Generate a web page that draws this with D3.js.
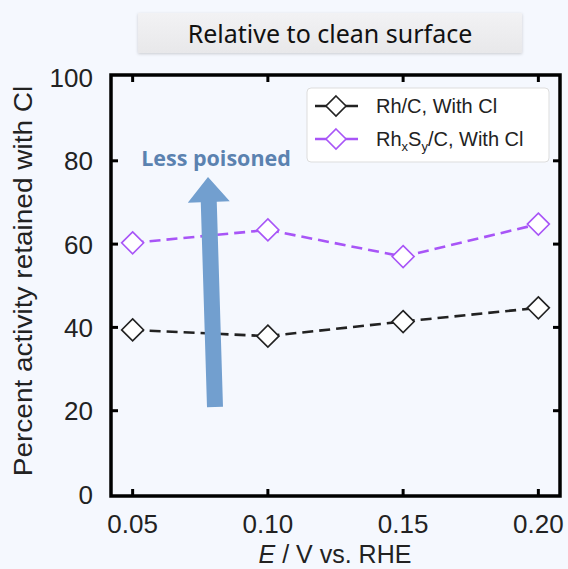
<!DOCTYPE html>
<html>
<head>
<meta charset="utf-8">
<script src="https://cdn.jsdelivr.net/npm/d3@7"></script>
<style>
  html, body { margin: 0; padding: 0; background: #f5f8fe; }
  svg { display: block; }
</style>
</head>
<body>
<svg id="chart"></svg>
<script>
const potentials = [0.05, 0.10, 0.15, 0.20];
const rhC = [39.4, 37.9, 41.4, 44.7];
const rhxSyC = [60.3, 63.4, 57.0, 64.8];
const xTicks = [0.05, 0.10, 0.15, 0.20];
const yTicks = [0, 20, 40, 60, 80, 100];

const width = 568;
const height = 569;

const svg = d3.select("#chart").attr("width", width).attr("height", height);

const defs = svg.append("defs");
const grad = defs.append("linearGradient").attr("id", "titleGrad")
  .attr("x1", 0).attr("y1", 0).attr("x2", 0).attr("y2", 1);
grad.append("stop").attr("offset", "0%").attr("stop-color", "#f2f2f4");
grad.append("stop").attr("offset", "100%").attr("stop-color", "#e8e8ea");
const shadow = defs.append("filter").attr("id", "shadow")
  .attr("x", "-10%").attr("y", "-30%").attr("width", "120%").attr("height", "160%");
shadow.append("feDropShadow").attr("dx", 0).attr("dy", 1).attr("stdDeviation", 1.5)
  .attr("flood-color", "#000").attr("flood-opacity", 0.18);

// title box
svg.append("rect")
  .attr("x", 138).attr("y", 13).attr("width", 384).attr("height", 40)
  .attr("fill", "url(#titleGrad)").attr("filter", "url(#shadow)");
svg.append("text")
  .attr("x", 330).attr("y", 43)
  .attr("text-anchor", "middle")
  .attr("font-family", "'Noto Sans', 'Open Sans', sans-serif")
  .attr("font-size", 25)
  .attr("fill", "#111")
  .text("Relative to clean surface");

const x = d3.scaleLinear().domain([0.042, 0.208]).range([111, 560]);
const y = d3.scaleLinear().domain([0, 100]).range([494, 77.5]);

const font = "'Liberation Sans', Arial, sans-serif";

// frame
const [x0, x1] = x.range();
const y0 = 496, y1 = 75;
svg.append("rect")
  .attr("x", x0).attr("y", y1).attr("width", x1 - x0).attr("height", y0 - y1)
  .attr("fill", "none").attr("stroke", "#000").attr("stroke-width", 3.5);

const tickLen = 7;
const ticks = svg.append("g").attr("stroke", "#000").attr("stroke-width", 3);
xTicks.forEach((t) => {
  ticks.append("line").attr("x1", x(t)).attr("x2", x(t)).attr("y1", y0).attr("y2", y0 - tickLen);
  ticks.append("line").attr("x1", x(t)).attr("x2", x(t)).attr("y1", y1).attr("y2", y1 + tickLen);
});
yTicks.slice(1, -1).forEach((t) => {
  ticks.append("line").attr("x1", x0).attr("x2", x0 + tickLen).attr("y1", y(t)).attr("y2", y(t));
  ticks.append("line").attr("x1", x1).attr("x2", x1 - tickLen).attr("y1", y(t)).attr("y2", y(t));
});

// tick labels
svg.append("g").selectAll("text").data(xTicks).enter().append("text")
  .attr("x", (d) => x(d)).attr("y", 533)
  .attr("text-anchor", "middle")
  .attr("font-family", font).attr("font-size", 26).attr("fill", "#222")
  .text((d) => d3.format(".2f")(d));
svg.append("g").selectAll("text").data(yTicks).enter().append("text")
  .attr("x", 93).attr("y", (d) => y(d) + 9.5)
  .attr("text-anchor", "end")
  .attr("font-family", font).attr("font-size", 26).attr("fill", "#222")
  .text((d) => d);

// axis titles
const xt = svg.append("text")
  .attr("x", 335).attr("y", 563)
  .attr("text-anchor", "middle")
  .attr("font-family", font).attr("font-size", 25).attr("fill", "#222");
xt.append("tspan").attr("font-style", "italic").text("E");
xt.append("tspan").text(" / V vs. RHE");

svg.append("text")
  .attr("transform", "translate(32,281) rotate(-90) scale(1.12,1)")
  .attr("text-anchor", "middle")
  .attr("font-family", font).attr("font-size", 25).attr("fill", "#222")
  .text("Percent activity retained with Cl");

// arrow
const arrowColor = "#729fcf";
const arrowBase = [215, 407];
const arrowTip = [208, 177];
const headLen = 25, headHalf = 21, shaftHalf = 8;
const ang = Math.atan2(arrowTip[1] - arrowBase[1], arrowTip[0] - arrowBase[0]);
const ux = Math.cos(ang), uy = Math.sin(ang);
const px = -uy, py = ux;
const hb = [arrowTip[0] - ux * headLen, arrowTip[1] - uy * headLen];
const arrowPts = [
  [arrowBase[0] + px * shaftHalf, arrowBase[1] + py * shaftHalf],
  [hb[0] + px * shaftHalf, hb[1] + py * shaftHalf],
  [hb[0] + px * headHalf, hb[1] + py * headHalf],
  arrowTip,
  [hb[0] - px * headHalf, hb[1] - py * headHalf],
  [hb[0] - px * shaftHalf, hb[1] - py * shaftHalf],
  [arrowBase[0] - px * shaftHalf, arrowBase[1] - py * shaftHalf]
];

svg.append("text")
  .attr("x", 216).attr("y", 166)
  .attr("text-anchor", "middle")
  .attr("font-family", "'Open Sans', 'Noto Sans', sans-serif")
  .attr("font-weight", "bold").attr("font-size", 21.5)
  .attr("fill", "#5b82b0")
  .text("Less poisoned");

// series
const series = [
  { name: "rh", values: rhC, color: "#222222" },
  { name: "rhs", values: rhxSyC, color: "#a855f7" }
];
const line = d3.line().x((d) => x(d[0])).y((d) => y(d[1]));
const diamond = (cx, cy, r) => `M${cx},${cy - r}L${cx + r},${cy}L${cx},${cy + r}L${cx - r},${cy}Z`;

series.forEach((s) => {
  const pts = potentials.map((p, i) => [p, s.values[i]]);
  svg.append("path")
    .attr("d", line(pts))
    .attr("fill", "none").attr("stroke", s.color)
    .attr("stroke-width", 2.6).attr("stroke-dasharray", "11,6");
});

svg.append("path")
  .attr("d", d3.line()(arrowPts) + "Z")
  .attr("fill", arrowColor);

series.forEach((s) => {
  potentials.forEach((p, i) => {
    svg.append("path")
      .attr("d", diamond(x(p), y(s.values[i]), 11))
      .attr("fill", "#fff").attr("stroke", s.color).attr("stroke-width", 1.6);
  });
});

// legend
const lg = svg.append("g");
lg.append("rect")
  .attr("x", 307).attr("y", 88).attr("width", 242).attr("height", 74).attr("rx", 4)
  .attr("fill", "#fff").attr("stroke", "#dddddd").attr("stroke-width", 1);
const legendRows = [
  { color: "#222222", y: 106 },
  { color: "#a855f7", y: 139 }
];
legendRows.forEach((r) => {
  lg.append("line").attr("x1", 315).attr("x2", 358).attr("y1", r.y).attr("y2", r.y)
    .attr("stroke", r.color).attr("stroke-width", 2.6);
  lg.append("path").attr("d", diamond(336, r.y, 10))
    .attr("fill", "#fff").attr("stroke", r.color).attr("stroke-width", 1.6);
});
lg.append("text")
  .attr("x", 376).attr("y", 113)
  .attr("font-family", font).attr("font-size", 20).attr("fill", "#222")
  .text("Rh/C, With Cl");
const t2 = lg.append("text")
  .attr("x", 376).attr("y", 146)
  .attr("font-family", font).attr("font-size", 20).attr("fill", "#222");
t2.append("tspan").text("Rh");
t2.append("tspan").attr("font-size", 13).attr("dy", 5).text("x");
t2.append("tspan").attr("dy", -5).text("S");
t2.append("tspan").attr("font-size", 13).attr("dy", 5).text("y");
t2.append("tspan").attr("dy", -5).text("/C, With Cl");
</script>
</body>
</html>
